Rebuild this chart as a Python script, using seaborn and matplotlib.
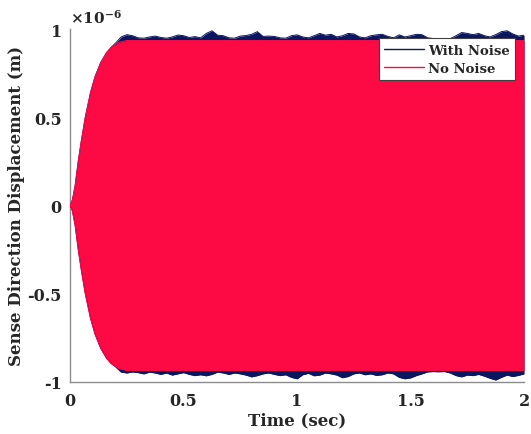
import numpy as np
import pandas as pd
import matplotlib
matplotlib.use("Agg")
import matplotlib.pyplot as plt
from matplotlib.ticker import FixedLocator, FuncFormatter
import seaborn as sns

# Envelope of the noise-free response (units of 1e-6 m)
t_clean = [0.0, 0.010, 0.022, 0.036, 0.050, 0.067, 0.090, 0.110, 0.135, 0.160,
           0.180, 0.215, 0.250, 0.300, 2.000]
amp_clean = [0.0, 0.03, 0.11, 0.25, 0.37, 0.50, 0.64, 0.73, 0.81, 0.865,
             0.895, 0.925, 0.935, 0.935, 0.935]

# Envelope of the response with noise, once settled (units of 1e-6 m)
t_noise = [0.200, 0.225, 0.250, 0.275, 0.300, 0.325, 0.350, 0.375, 0.400, 0.425,
           0.450, 0.475, 0.500, 0.525, 0.550, 0.575, 0.600, 0.625, 0.650, 0.675,
           0.700, 0.725, 0.750, 0.775, 0.800, 0.825, 0.850, 0.875, 0.900, 0.925,
           0.950, 0.975, 1.000, 1.025, 1.050, 1.075, 1.100, 1.125, 1.150, 1.175,
           1.200, 1.225, 1.250, 1.275, 1.300, 1.325, 1.350, 1.375, 1.400, 1.425,
           1.450, 1.475, 1.500, 1.525, 1.550, 1.575, 1.600, 1.625, 1.650, 1.675,
           1.700, 1.725, 1.750, 1.775, 1.800, 1.825, 1.850, 1.875, 1.900, 1.925,
           1.950, 1.975, 2.000]
upper_noise = [0.920, 0.955, 0.968, 0.962, 0.950, 0.948, 0.955, 0.960, 0.952, 0.948,
               0.955, 0.966, 0.962, 0.952, 0.957, 0.950, 0.975, 0.990, 0.965, 0.962,
               0.950, 0.948, 0.960, 0.963, 0.970, 0.985, 0.958, 0.960, 0.958, 0.950,
               0.948, 0.962, 0.967, 0.955, 0.950, 0.962, 0.975, 0.965, 0.970, 0.955,
               0.962, 0.975, 0.972, 0.955, 0.950, 0.962, 0.967, 0.970, 0.958, 0.950,
               0.967, 0.955, 0.962, 0.970, 0.968, 0.950, 0.946, 0.945, 0.946, 0.945,
               0.962, 0.980, 0.975, 0.968, 0.975, 0.962, 0.955, 0.968, 0.985, 0.990,
               0.972, 0.960, 0.965]
lower_noise = [-0.915, -0.945, -0.950, -0.944, -0.948, -0.955, -0.945, -0.950, -0.958, -0.950,
               -0.962, -0.955, -0.948, -0.958, -0.965, -0.960, -0.966, -0.958, -0.945, -0.950,
               -0.958, -0.950, -0.955, -0.962, -0.972, -0.965, -0.955, -0.950, -0.958, -0.965,
               -0.960, -0.975, -0.983, -0.960, -0.952, -0.966, -0.962, -0.950, -0.955, -0.962,
               -0.977, -0.970, -0.955, -0.950, -0.960, -0.955, -0.964, -0.960, -0.950, -0.955,
               -0.975, -0.983, -0.978, -0.965, -0.955, -0.944, -0.942, -0.943, -0.942, -0.950,
               -0.965, -0.972, -0.962, -0.965, -0.958, -0.968, -0.980, -0.990, -0.975, -0.962,
               -0.970, -0.964, -0.955]

x_ticks = [0, 0.5, 1, 1.5, 2]
y_ticks = [-1, -0.5, 0, 0.5, 1]

series_names = ["With Noise", "No Noise"]
colors = {"With Noise": "#0b1660", "No Noise": "#fd0a45"}

# Noisy envelope: follows the clean rise, then the recorded noisy envelope
t_rise = [t for t in t_clean if t < t_noise[0]]
a_rise = amp_clean[:len(t_rise)]
t_wn = np.array(t_rise + t_noise)
up_wn = np.array(a_rise + upper_noise)
lo_wn = np.array([-a for a in a_rise] + lower_noise)

t_nn = np.array(t_clean)
up_nn = np.array(amp_clean)
lo_nn = -up_nn

frames = []
for name, t, up, lo in [("With Noise", t_wn, up_wn, lo_wn),
                        ("No Noise", t_nn, up_nn, lo_nn)]:
    frames.append(pd.DataFrame({"time": t, "disp": up, "series": name, "edge": "upper"}))
    frames.append(pd.DataFrame({"time": t, "disp": lo, "series": name, "edge": "lower"}))
df = pd.concat(frames, ignore_index=True)

sns.set_theme(style="white")
plt.rcParams["font.family"] = ["DejaVu Serif"]
plt.rcParams["font.weight"] = "bold"
plt.rcParams["axes.unicode_minus"] = False
plt.rcParams["mathtext.fontset"] = "dejavuserif"

fig = plt.figure(figsize=(5.31, 4.35), dpi=100)
ax = fig.add_axes([0.132, 0.12, 0.855, 0.811])

ax.fill_between(t_wn, lo_wn, up_wn, color=colors["With Noise"], linewidth=0, zorder=1)
ax.fill_between(t_nn, lo_nn, up_nn, color=colors["No Noise"], linewidth=0, zorder=2)
sns.lineplot(data=df, x="time", y="disp", hue="series", hue_order=series_names,
             units="edge", estimator=None, palette=colors, linewidth=0.7,
             sort=False, ax=ax, zorder=3)

ax.set_xlim(0, 2)
ax.set_ylim(-1, 1)
ax.xaxis.set_major_locator(FixedLocator(x_ticks))
ax.yaxis.set_major_locator(FixedLocator(y_ticks))
fmt = FuncFormatter(lambda v, p: f"{v:g}")
ax.xaxis.set_major_formatter(fmt)
ax.yaxis.set_major_formatter(fmt)

for s in ["top", "right"]:
    ax.spines[s].set_visible(False)
for s in ["left", "bottom"]:
    ax.spines[s].set_color("#8c8c8c")
    ax.spines[s].set_linewidth(1.0)
ax.tick_params(direction="in", length=4, width=0.8, color="#8c8c8c",
               labelsize=11.5, labelcolor="#262626")
ax.tick_params(axis="x", pad=7)
ax.tick_params(axis="y", pad=6)
for lbl in ax.get_xticklabels() + ax.get_yticklabels():
    lbl.set_fontweight("bold")

ax.set_xlabel("Time (sec)", fontsize=12, fontweight="bold", color="#262626", labelpad=2)
ax.set_ylabel("Sense Direction Displacement (m)", fontsize=12, fontweight="bold",
              color="#262626", labelpad=2)
ax.text(0.0, 1.008, r"$\times\mathregular{10^{-6}}$", transform=ax.transAxes,
        ha="left", va="bottom", fontsize=11, color="#262626")

leg = ax.legend(loc="upper right", frameon=True, fancybox=False,
                framealpha=1, edgecolor="#404040", handlelength=3.0,
                borderaxespad=0.7, borderpad=0.4, labelspacing=0.4,
                handletextpad=0.3, prop={"weight": "bold", "size": 9.5})
leg.get_frame().set_linewidth(0.8)
for h in leg.get_lines():
    h.set_linewidth(1.0)

fig.savefig("out.png", dpi=100)
